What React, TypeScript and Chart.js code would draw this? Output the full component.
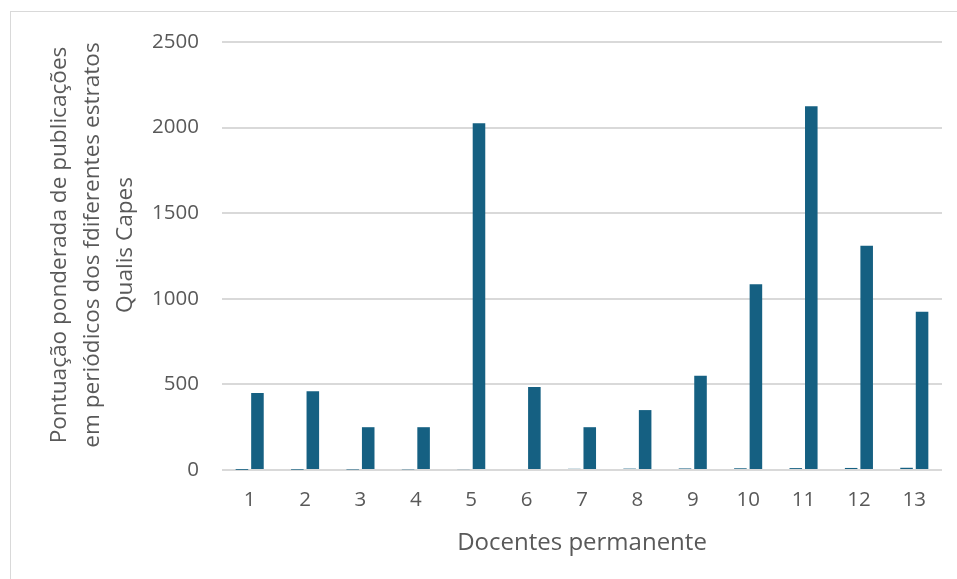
import React, { useEffect, useRef } from "react";
import { Chart, registerables } from "chart.js";

Chart.register(...registerables);

const categories = ["1", "2", "3", "4", "5", "6", "7", "8", "9", "10", "11", "12", "13"];
const docenteIds = [1, 2, 3, 4, 5, 6, 7, 8, 9, 10, 11, 12, 13];
const pontuacao = [450, 460, 250, 250, 2025, 485, 250, 350, 550, 1085, 2125, 1310, 925];
const yTicks = [0, 500, 1000, 1500, 2000, 2500];
const yTitle = ["Pontuação ponderada de publicações", "em periódicos dos fdiferentes estratos", "Qualis Capes"];
const xTitle = "Docentes permanente";

const BAR = "#156082";
const TEXT = "#595959";
const FONT = "'Open Sans', sans-serif";

const yTitlePlugin = {
  id: "yTitlePlugin",
  afterDraw(chart: any) {
    const ctx = chart.ctx;
    ctx.save();
    ctx.fillStyle = TEXT;
    ctx.font = `22.6px ${FONT}`;
    ctx.textAlign = "center";
    ctx.textBaseline = "middle";
    const xs = [60, 93, 126];
    yTitle.forEach((line, i) => {
      ctx.save();
      ctx.translate(xs[i], 245);
      ctx.rotate(-Math.PI / 2);
      ctx.fillText(line, 0, 0);
      ctx.restore();
    });
    ctx.restore();
  },
};

export default function App() {
  const ref = useRef<HTMLCanvasElement | null>(null);
  useEffect(() => {
    if (!ref.current) return;
    const chart = new Chart(ref.current, {
      type: "bar",
      data: {
        labels: categories,
        datasets: [
          { label: "Docente", data: docenteIds, backgroundColor: BAR, barPercentage: 0.81, categoryPercentage: 0.56 },
          { label: "Pontuação", data: pontuacao, backgroundColor: BAR, barPercentage: 0.81, categoryPercentage: 0.56 },
        ],
      },
      plugins: [yTitlePlugin],
      options: {
        responsive: false,
        animation: false,
        devicePixelRatio: 1,
        layout: { padding: { left: 44, right: 15, top: 42, bottom: 0 } },
        plugins: { legend: { display: false }, tooltip: { enabled: false } },
        scales: {
          x: {
            grid: { display: false, drawTicks: false },
            border: { display: false },
            ticks: { color: TEXT, font: { family: FONT, size: 20.5 }, padding: 18 },
            title: { display: true, text: xTitle, color: TEXT, font: { family: FONT, size: 24 }, padding: { top: 0, bottom: 21 } },
            afterFit: (s: any) => { s.height = 109; },
          },
          y: {
            min: 0,
            max: 2500,
            afterBuildTicks: (s: any) => { s.ticks = yTicks.map((v) => ({ value: v })); },
            grid: { color: "#d9d9d9", lineWidth: 2, drawTicks: false },
            border: { display: false },
            ticks: { color: TEXT, font: { family: FONT, size: 20.5 }, padding: 23, callback: (v: any) => String(v) },
            title: { display: false },
            afterFit: (s: any) => { s.width = 178; },
          },
        },
      },
    });
    return () => chart.destroy();
  }, []);
  return (
    <div style={{ position: "fixed", left: 0, top: 0, width: 957, height: 579, overflow: "hidden", background: "#fff" }}>
      <div style={{ position: "absolute", left: 10, top: 11, width: 1000, height: 1000, border: "1px solid #d9d9d9" }} />
      <canvas ref={ref} width={957} height={579} style={{ position: "absolute", left: 0, top: 0, width: 957, height: 579 }} />
    </div>
  );
}
